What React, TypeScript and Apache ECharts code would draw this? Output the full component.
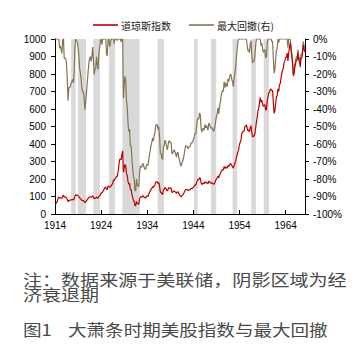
import React, { useEffect, useRef } from "react";
import * as echarts from "echarts";

// Sampling: every two months, first sample placed at axis position 1914.0
const startYear = 1914;
const stepYears = 1 / 6;

// 道琼斯指数 (left axis)
const dowIndex = [
  57, 60, 64, 74, 88, 97,
  92, 93, 91, 89, 102, 108,
  96, 96, 96, 92, 83, 70,
  78, 78, 79, 81, 82, 83,
  81, 88, 104, 109, 108, 107,
  104, 99, 91, 88, 84, 78,
  76, 76, 72, 65, 70, 76,
  82, 88, 94, 97, 98, 95,
  98, 104, 96, 87, 90, 91,
  98, 93, 90, 100, 103, 108,
  122, 118, 127, 135, 142, 152,
  155, 142, 140, 158, 160, 153,
  156, 160, 168, 175, 195, 190,
  200, 205, 216, 214, 240, 275,
  310, 315, 310, 340, 360, 238,
  265, 283, 275, 232, 220, 185,
  170, 175, 140, 140, 115, 95,
  78, 72, 48, 48, 72, 60,
  58, 56, 85, 98, 98, 96,
  104, 102, 96, 92, 92, 100,
  103, 100, 112, 124, 132, 142,
  148, 156, 150, 162, 167, 182,
  184, 184, 174, 180, 160, 125,
  124, 115, 112, 138, 140, 152,
  148, 140, 132, 140, 150, 150,
  146, 148, 125, 124, 130, 132,
  128, 124, 117, 126, 127, 116,
  110, 102, 98, 105, 108, 114,
  122, 133, 140, 140, 139, 134,
  138, 138, 140, 146, 146, 148,
  154, 158, 165, 164, 178, 190,
  198, 195, 208, 204, 178, 168,
  175, 176, 172, 184, 177, 182,
  177, 172, 187, 185, 180, 176,
  178, 176, 170, 172, 180, 191,
  200, 207, 218, 206, 222, 229,
  242, 250, 254, 252, 272, 260,
  270, 264, 262, 278, 272, 280,
  288, 286, 276, 272, 262, 278,
  290, 302, 322, 340, 355, 370,
  400, 410, 425, 460, 470, 470,
  475, 500, 500, 510, 490, 475,
  480, 470, 495, 505, 465, 440,
  445, 445, 460, 490, 525, 555,
  590, 605, 635, 665, 640, 650,
  630, 615, 620, 625, 595, 595,
  645, 670, 690, 695, 710, 715,
  705, 705, 640, 575, 590, 630,
  670, 675, 715, 700, 740, 745,
  775, 805, 820, 835, 865, 875,
  895, 895, 920, 875, 920, 950,
  980, 940, 900, 860, 790, 800,
  840, 860, 880, 880, 920, 880,
  870, 840, 895, 890, 920, 965,
  940, 925,
];

// 最大回撤 in % (right axis)
const maxDrawdown = [
  0, 0, 0, 0, 0, 0,
  -5.2, -4.1, -6.2, -8.2, 0, 0,
  -11.1, -11.1, -11.1, -14.8, -23.1, -35.2,
  -27.8, -27.8, -26.9, -25.0, -24.1, -23.1,
  -25.0, -18.5, -3.7, 0, -0.9, -1.8,
  -4.6, -9.2, -16.5, -19.3, -22.9, -28.4,
  -30.3, -30.3, -33.9, -40.4, -35.8, -30.3,
  -24.8, -19.3, -13.8, -11.0, -10.1, -12.8,
  -10.1, -4.6, -11.9, -20.2, -17.4, -16.5,
  -10.1, -14.7, -17.4, -8.3, -5.5, -0.9,
  0, -3.3, 0, 0, 0, 0,
  0, -8.4, -9.7, 0, 0, -4.4,
  -2.5, 0, 0, 0, 0, -2.6,
  0, 0, 0, -0.9, 0, 0,
  0, 0, -1.6, 0, 0, -33.9,
  -26.4, -21.4, -23.6, -35.6, -38.9, -48.6,
  -52.8, -51.4, -61.1, -61.1, -68.1, -73.6,
  -78.3, -80.0, -86.7, -86.7, -80.0, -83.3,
  -83.9, -84.4, -76.4, -72.8, -72.8, -73.3,
  -71.1, -71.7, -73.3, -74.4, -74.4, -72.2,
  -71.4, -72.2, -68.9, -65.6, -63.3, -60.6,
  -58.9, -56.7, -58.3, -55.0, -53.6, -49.4,
  -48.9, -48.9, -51.7, -50.0, -55.6, -65.3,
  -65.6, -68.1, -68.9, -61.7, -61.1, -57.8,
  -58.9, -61.1, -63.3, -61.1, -58.3, -58.3,
  -59.4, -58.9, -65.3, -65.6, -63.9, -63.3,
  -64.4, -65.6, -67.5, -65.0, -64.7, -67.8,
  -69.4, -71.7, -72.8, -70.8, -70.0, -68.3,
  -66.1, -63.1, -61.1, -61.1, -61.4, -62.8,
  -61.7, -61.7, -61.1, -59.4, -59.4, -58.9,
  -57.2, -56.1, -54.2, -54.4, -50.6, -47.2,
  -45.0, -45.8, -42.2, -43.3, -50.6, -53.3,
  -51.4, -51.1, -52.2, -48.9, -50.8, -49.4,
  -50.8, -52.2, -48.1, -48.6, -50.0, -51.1,
  -50.6, -51.1, -52.8, -52.2, -50.0, -46.9,
  -44.4, -42.5, -39.4, -42.8, -38.3, -36.4,
  -32.8, -30.6, -29.4, -30.0, -24.4, -27.8,
  -25.0, -26.7, -27.2, -22.8, -24.4, -22.2,
  -20.0, -20.6, -23.3, -24.4, -27.2, -22.8,
  -19.4, -16.1, -10.6, -5.6, -1.4, 0,
  0, 0, 0, 0, 0, 0,
  0, 0, 0, 0, -3.9, -6.9,
  -5.9, -7.8, -2.9, -1.0, -8.8, -13.7,
  -12.7, -12.7, -9.8, -3.9, 0, 0,
  0, 0, 0, 0, -3.8, -2.3,
  -5.3, -7.5, -6.8, -6.0, -10.5, -10.5,
  -3.0, 0, 0, 0, 0, 0,
  -1.4, -1.4, -10.5, -19.6, -17.5, -11.9,
  -6.3, -5.6, 0, -2.1, 0, 0,
  0, 0, 0, 0, 0, 0,
  0, 0, 0, -4.9, 0, 0,
  0, -4.1, -8.2, -12.2, -19.4, -18.4,
  -14.3, -12.2, -10.2, -10.2, -6.1, -10.2,
  -11.2, -14.3, -8.7, -9.2, -6.1, -1.5,
  -4.1, -5.6,
];

// 经济衰退期 shading (axis years, start/end)
const recessionStarts = [1917.5, 1918.95, 1922.3, 1925.7, 1928.6, 1936.25, 1944.13, 1947.8, 1952.5, 1956.55, 1959.25];
const recessionEnds = [1918.48, 1920.72, 1923.75, 1927.0, 1932.35, 1937.62, 1944.92, 1948.95, 1953.5, 1957.55, 1960.4];

const xMin = 1914;
const xMax = 1968.2;

const seriesNames = ["道琼斯指数", "最大回撤(右)"];
const noteText = "注：数据来源于美联储，阴影区域为经\n济衰退期";
const figureLabel = "图1";
const figureTitle = "大萧条时期美股指数与最大回撤";

export default function App() {
  const ref = useRef<HTMLDivElement>(null);

  useEffect(() => {
    if (!ref.current) return;
    const chart = echarts.init(ref.current, null, { renderer: "svg" });
    const dowData = dowIndex.map((v, i) => [startYear + i * stepYears, v]);
    const ddData = maxDrawdown.map((v, i) => [startYear + i * stepYears, v]);
    const bands = recessionStarts.map((s, i) => [{ xAxis: s }, { xAxis: recessionEnds[i] }]);
    const numFont = "'Liberation Sans', Arial, sans-serif";
    const cjkFont = "'Noto Sans CJK SC', sans-serif";
    const textColor = "#4a4a4a";

    chart.setOption({
      animation: false,
      backgroundColor: "#ffffff",
      legend: {
        data: seriesNames,
        left: 93,
        top: 20,
        padding: 0,
        icon: "rect",
        itemWidth: 25,
        itemHeight: 1.6,
        itemGap: 18,
        textStyle: { fontSize: 10, color: "#222", fontFamily: cjkFont, padding: [0, 0, 0, -2] },
      },
      grid: { left: 55, right: 59, top: 39, bottom: 137, containLabel: false },
      xAxis: {
        type: "value",
        min: xMin,
        max: xMax,
        interval: 10,
        axisLine: { show: true, lineStyle: { color: "#000", width: 1 } },
        axisTick: { show: true, inside: true, length: 4, lineStyle: { color: "#000" } },
        axisLabel: {
          showMaxLabel: false,
          margin: 6,
          fontSize: 10,
          color: "#000",
          fontFamily: numFont,
          formatter: (v: number) => String(Math.round(v)),
        },
        splitLine: { show: false },
      },
      yAxis: [
        {
          type: "value",
          min: 0,
          max: 1000,
          interval: 100,
          position: "left",
          axisLine: { show: true, lineStyle: { color: "#000", width: 1 } },
          axisTick: { show: true, length: 4, lineStyle: { color: "#000" } },
          axisLabel: {
            margin: 9,
            fontSize: 10,
            color: "#000",
            fontFamily: numFont,
            formatter: (v: number) => String(v),
          },
          splitLine: { show: false },
        },
        {
          type: "value",
          min: -100,
          max: 0,
          interval: 10,
          position: "right",
          axisLine: { show: true, lineStyle: { color: "#000", width: 1 } },
          axisTick: { show: true, length: 4, lineStyle: { color: "#000" } },
          axisLabel: {
            margin: 8,
            fontSize: 10,
            color: "#000",
            fontFamily: numFont,
            formatter: (v: number) => `${v}%`,
          },
          splitLine: { show: false },
        },
      ],
      series: [
        {
          name: seriesNames[1],
          type: "line",
          yAxisIndex: 1,
          data: ddData,
          symbol: "none",
          showSymbol: false,
          lineStyle: { color: "#857555", width: 1.2 },
          itemStyle: { color: "#857555" },
          z: 2,
          markArea: {
            silent: true,
            itemStyle: { color: "#D9D9D9", opacity: 1 },
            data: bands,
          },
        },
        {
          name: seriesNames[0],
          type: "line",
          yAxisIndex: 0,
          data: dowData,
          symbol: "none",
          showSymbol: false,
          lineStyle: { color: "#C00000", width: 1.2 },
          itemStyle: { color: "#C00000" },
          z: 3,
        },
      ],
      graphic: [
        {
          type: "text",
          x: 23,
          y: 272,
          scaleX: 1.19,
          style: {
            text: noteText,
            x: 0,
            y: 0,
            fill: textColor,
            font: `16px ${cjkFont}`,
            lineHeight: 15,
            align: "left",
            verticalAlign: "top",
          },
        },
        {
          type: "text",
          x: 23,
          y: 321,
          scaleX: 1.16,
          style: {
            text: figureLabel,
            x: 0,
            y: 0,
            fill: textColor,
            font: `16px ${cjkFont}`,
            lineHeight: 16,
            align: "left",
            verticalAlign: "top",
          },
        },
        {
          type: "text",
          x: 68,
          y: 321,
          scaleX: 1.16,
          style: {
            text: figureTitle,
            x: 0,
            y: 0,
            fill: textColor,
            font: `16px ${cjkFont}`,
            lineHeight: 16,
            align: "left",
            verticalAlign: "top",
          },
        },
      ],
    });

    return () => chart.dispose();
  }, []);

  return (
    <div
      ref={ref}
      style={{ position: "absolute", left: 0, top: 0, width: 364, height: 351, background: "#fff" }}
    />
  );
}
